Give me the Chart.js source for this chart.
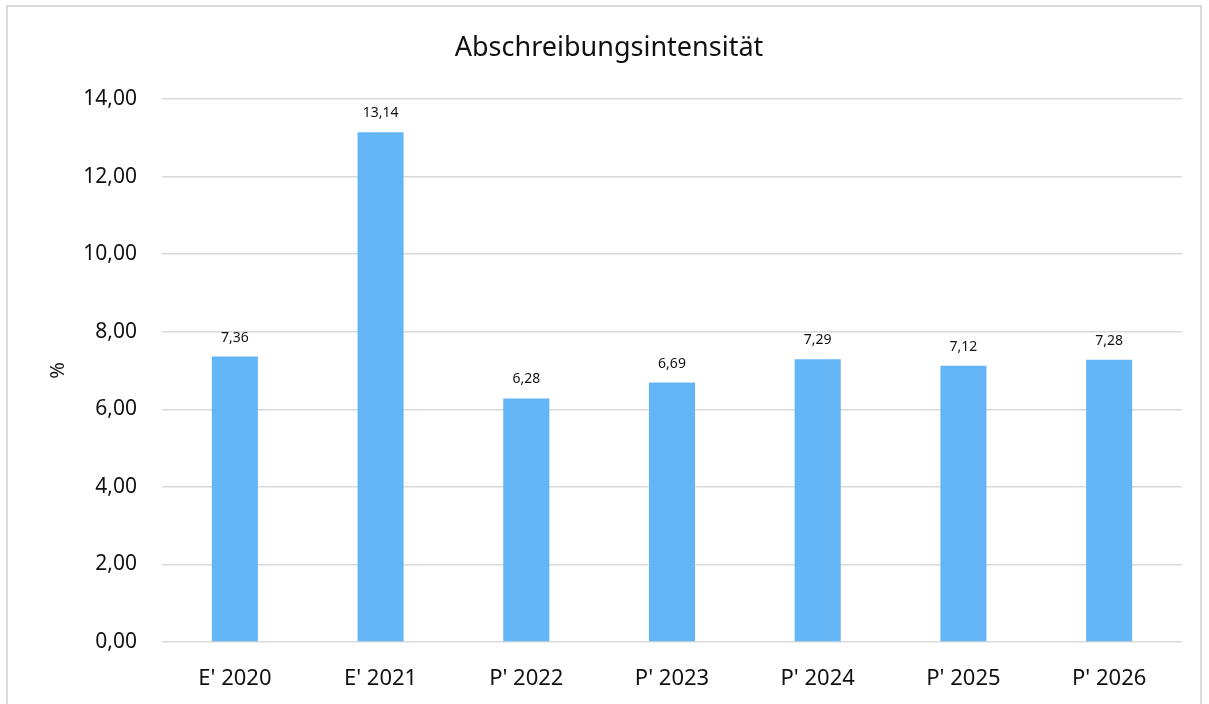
<!DOCTYPE html>
<html>
<head>
<meta charset="utf-8">
<script src="https://cdn.jsdelivr.net/npm/chart.js@4"></script>
<style>
    html, body { margin: 0; padding: 0; background: #fff; overflow: hidden; }
    #wrap { position: relative; width: 1209px; height: 704px; }
    #frame {
        position: absolute; left: 6px; top: 5px; width: 1192px; height: 720px;
        border: 2px solid #d9d9d9; pointer-events: none;
    }
    canvas { position: absolute; left: 0; top: 0; }
</style>
</head>
<body>
<div id="wrap">
    <canvas id="chartDepreciation" width="1209" height="704"></canvas>
    <div id="frame"></div>
</div>
<script>
// Abschreibungsintensität in %, Ist (E') und Plan (P')
const categories = ["E' 2020", "E' 2021", "P' 2022", "P' 2023", "P' 2024", "P' 2025", "P' 2026"];
const values     = [7.36, 13.14, 6.28, 6.69, 7.29, 7.12, 7.28];
const yTicks     = [0, 2, 4, 6, 8, 10, 12, 14];

const FONT = "'Noto Sans', 'Open Sans', sans-serif";

function formatDe(v) {
    return v.toFixed(2).replace('.', ',');
}

// value labels above each bar
const barLabels = {
    id: 'barLabels',
    afterDatasetsDraw(chart) {
        const ctx  = chart.ctx;
        const meta = chart.getDatasetMeta(0);
        ctx.save();
        ctx.font = '14px ' + FONT;
        ctx.fillStyle = '#111';
        ctx.textAlign = 'center';
        ctx.textBaseline = 'middle';
        meta.data.forEach((bar, i) => {
            ctx.fillText(formatDe(values[i]), bar.x, bar.y - 19);
        });
        ctx.restore();
    }
};

new Chart(document.getElementById('chartDepreciation'), {
    type: 'bar',
    data: {
        labels: categories,
        datasets: [{
            data: values,
            backgroundColor: '#64B5F6',
            borderWidth: 0,
            barPercentage: 0.316,
            categoryPercentage: 1,
            yAxisID: 'y',
        }],
    },
    options: {
        responsive: false,
        animation: false,
        devicePixelRatio: 1,
        layout: { padding: { left: 9, right: 0, top: 0, bottom: 0 } },
        plugins: {
            legend: { display: false },
            tooltip: { enabled: false },
            title: {
                display: true,
                text: 'Abschreibungsintensität',
                color: '#111',
                font: { family: FONT, size: 27, weight: 'normal', lineHeight: 1.2 },
                padding: { top: 32, bottom: 34.6 },
            },
        },
        scales: {
            x: {
                grid: { display: false },
                border: { display: false },
                ticks: {
                    color: '#111',
                    padding: 16,
                    font: { family: FONT, size: 22 },
                },
                afterFit(scale) { scale.height = 62; },
            },
            y: {
                min: 0,
                max: 14,
                afterBuildTicks(scale) {
                    scale.ticks = yTicks.map(v => ({ value: v }));
                },
                grid: { color: '#d9d9d9', lineWidth: 1.5, drawTicks: false },
                border: { display: false },
                ticks: {
                    color: '#111',
                    padding: 25,
                    font: { family: FONT, size: 21 },
                    callback: v => formatDe(v),
                },
                title: {
                    display: true,
                    text: '%',
                    color: '#111',
                    font: { family: FONT, size: 20, lineHeight: 1.2 },
                    padding: { top: 37, bottom: 0 },
                },
                afterFit(scale) { scale.width = 153; },
            },
            // empty spacer on the right so the plot ends where the reference ends
            spacer: {
                position: 'right',
                display: true,
                grid: { display: false },
                border: { display: false },
                ticks: { display: false },
                afterFit(scale) { scale.width = 27; },
            },
        },
    },
    plugins: [barLabels],
});
</script>
</body>
</html>
